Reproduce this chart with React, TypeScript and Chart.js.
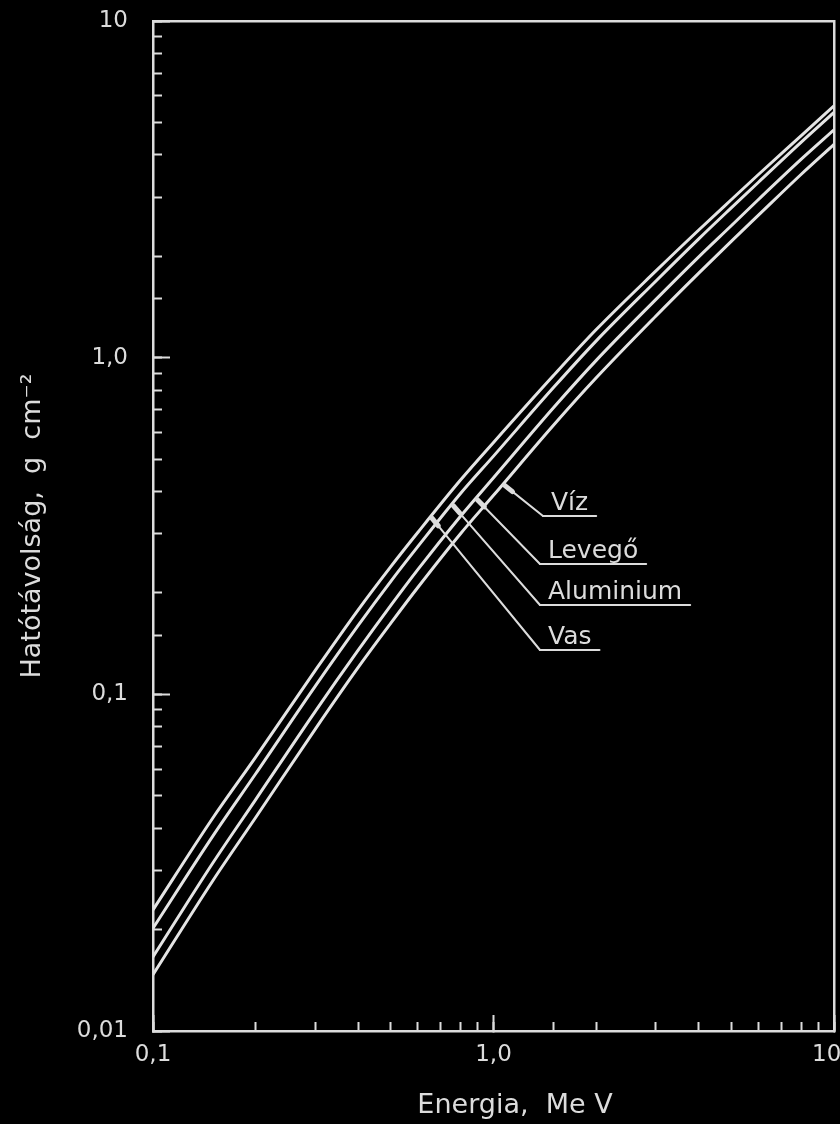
import { useEffect, useRef } from 'react';
import { Chart, registerables } from 'chart.js';

Chart.register(...registerables);

// Electron range (g/cm²) versus energy (MeV) for four absorbers
const energyMeV = [0.1, 0.15, 0.2, 0.3, 0.4, 0.5, 0.6, 0.8, 1, 1.5, 2, 3, 4, 5, 6, 8, 10];
const rangeVas = [0.0229, 0.043, 0.065, 0.118, 0.178, 0.24, 0.303, 0.433, 0.56, 0.885, 1.21, 1.81, 2.39, 2.95, 3.5, 4.56, 5.6];
const rangeAluminium = [0.0202, 0.038, 0.058, 0.106, 0.16, 0.217, 0.275, 0.395, 0.51, 0.815, 1.12, 1.69, 2.25, 2.79, 3.32, 4.36, 5.35];
const rangeLevego = [0.0166, 0.0316, 0.0486, 0.0892, 0.135, 0.184, 0.235, 0.338, 0.44, 0.71, 0.98, 1.49, 1.99, 2.47, 2.95, 3.88, 4.75];
const rangeViz = [0.0147, 0.028, 0.043, 0.079, 0.12, 0.163, 0.208, 0.3, 0.39, 0.63, 0.87, 1.33, 1.78, 2.22, 2.65, 3.5, 4.3];

const seriesNames = ['Vas', 'Aluminium', 'Levegő', 'Víz'];
const seriesValues = [rangeVas, rangeAluminium, rangeLevego, rangeViz];
// energy at which each callout touches its curve
const calloutEnergy = [0.654, 0.755, 0.888, 1.067];

const xTickValues = [0.1, 1, 10];
const xTickLabels = ['0,1', '1,0', '10'];
const yTickValues = [0.01, 0.1, 1, 10];
const yTickLabels = ['0,01', '0,1', '1,0', '10'];

const yTitle = 'Hatótávolság,  g  cm⁻²';
const xTitle = 'Energia,  Me V';

const INK = '#dcdcdc';
const LINE = '#e4e4e4';
const FONT = 'DejaVu Sans';

// callout end points (start of each underline), in canvas pixels
const calloutEnds = [
  { x: 540, y: 650 },
  { x: 540, y: 605 },
  { x: 540, y: 564 },
  { x: 543, y: 516 },
];

function isDecade(v: number) {
  const l = Math.log10(v);
  return Math.abs(l - Math.round(l)) < 1e-9;
}

function labelFor(values: number[], labels: string[], padLast = false) {
  return (value: number | string, index: number, ticks: any[]) => {
    const v = Number(value);
    const i = values.findIndex((t) => Math.abs(t - v) / t < 1e-6);
    if (i < 0) return '';
    // nudge the right-most label so it stays inside the canvas
    return padLast && index === ticks.length - 1 ? labels[i] + '\u00a0\u00a0' : labels[i];
  };
}

function logInterp(xs: number[], ys: number[], x: number) {
  for (let i = 0; i < xs.length - 1; i++) {
    if (x >= xs[i] && x <= xs[i + 1]) {
      const t = (Math.log(x) - Math.log(xs[i])) / (Math.log(xs[i + 1]) - Math.log(xs[i]));
      return Math.exp(Math.log(ys[i]) + t * (Math.log(ys[i + 1]) - Math.log(ys[i])));
    }
  }
  return ys[ys.length - 1];
}

const backgroundPlugin = {
  id: 'blackBackground',
  beforeDraw(chart: Chart) {
    const { ctx, width, height } = chart;
    ctx.save();
    ctx.fillStyle = '#000';
    ctx.fillRect(0, 0, width, height);
    ctx.restore();
  },
};

const calloutPlugin = {
  id: 'callouts',
  afterDatasetsDraw(chart: Chart) {
    const { ctx } = chart;
    const xs = chart.scales.x;
    const ys = chart.scales.y;
    ctx.save();
    ctx.strokeStyle = INK;
    ctx.fillStyle = INK;
    ctx.font = `25px "${FONT}"`;
    ctx.textBaseline = 'alphabetic';
    ctx.lineCap = 'round';
    seriesNames.forEach((name, i) => {
      const e = calloutEnergy[i];
      const ax = xs.getPixelForValue(e);
      const ay = ys.getPixelForValue(logInterp(energyMeV, seriesValues[i], e));
      const end = calloutEnds[i];
      const dx = end.x - ax;
      const dy = end.y - ay;
      const len = Math.hypot(dx, dy);
      // leader line
      ctx.lineWidth = 2;
      ctx.beginPath();
      ctx.moveTo(ax, ay);
      ctx.lineTo(end.x, end.y);
      ctx.stroke();
      // small arrow mark where the leader meets the curve
      ctx.lineWidth = 5;
      ctx.beginPath();
      ctx.moveTo(ax + (dx / len) * 2, ay + (dy / len) * 2);
      ctx.lineTo(ax + (dx / len) * 12, ay + (dy / len) * 12);
      ctx.stroke();
      // underline and text
      const tw = ctx.measureText(name).width;
      ctx.lineWidth = 2;
      ctx.beginPath();
      ctx.moveTo(end.x, end.y);
      ctx.lineTo(end.x + tw + 16, end.y);
      ctx.stroke();
      ctx.fillText(name, end.x + 8, end.y - 6);
    });
    // energy axis title
    ctx.font = `27px "${FONT}"`;
    ctx.textAlign = 'center';
    ctx.textBaseline = 'middle';
    ctx.fillText(xTitle, 515, 1106);
    ctx.restore();
  },
};

export default function App() {
  const ref = useRef<HTMLCanvasElement>(null);

  useEffect(() => {
    document.body.style.margin = '0';
    document.body.style.background = '#000';
    const canvas = ref.current!;

    const datasets = seriesNames.map((name, i) => ({
      label: name,
      data: energyMeV.map((e, j) => ({ x: e, y: seriesValues[i][j] })),
      borderColor: LINE,
      borderWidth: 3,
      pointRadius: 0,
      cubicInterpolationMode: 'monotone' as const,
      fill: false,
    }));

    const tickFont = { family: FONT, size: 23 };

    const chart = new Chart(canvas, {
      type: 'line',
      data: { datasets },
      plugins: [backgroundPlugin, calloutPlugin],
      options: {
        animation: false,
        responsive: false,
        layout: { padding: { top: 21, right: 6, left: 0, bottom: 0 } },
        plugins: { legend: { display: false }, tooltip: { enabled: false } },
        scales: {
          x: {
            type: 'logarithmic',
            position: 'bottom',
            min: 0.1,
            max: 10,
            weight: 1,
            border: { display: true, color: INK, width: 2.5 },
            grid: {
              display: true,
              drawOnChartArea: false,
              drawTicks: true,
              tickLength: -16,
              tickWidth: 2,
              tickColor: (c: any) => (c.tick && isDecade(c.tick.value) ? INK : 'rgba(0,0,0,0)'),
            },
            ticks: {
              autoSkip: false,
              maxRotation: 0,
              padding: 26,
              color: INK,
              font: tickFont,
              callback: labelFor(xTickValues, xTickLabels, true),
            },
            afterFit: (s: any) => {
              s.height = 93;
              s.paddingLeft = 0;
              s.paddingRight = 0;
            },
          },
          xMinor: {
            type: 'logarithmic',
            axis: 'x',
            position: 'bottom',
            min: 0.1,
            max: 10,
            weight: 0,
            border: { display: false },
            grid: {
              display: true,
              drawOnChartArea: false,
              drawTicks: true,
              tickLength: -9,
              tickWidth: 2,
              tickColor: INK,
            },
            ticks: { display: false, autoSkip: false },
            afterFit: (s: any) => {
              s.height = 0;
              s.paddingLeft = 0;
              s.paddingRight = 0;
            },
          },
          xTop: {
            type: 'logarithmic',
            axis: 'x',
            position: 'top',
            min: 0.1,
            max: 10,
            border: { display: true, color: INK, width: 2.5 },
            grid: { display: false },
            ticks: { display: false },
            afterFit: (s: any) => {
              s.height = 0;
              s.paddingLeft = 0;
              s.paddingRight = 0;
            },
          },
          y: {
            type: 'logarithmic',
            position: 'left',
            min: 0.01,
            max: 10,
            weight: 1,
            border: { display: true, color: INK, width: 2.5 },
            grid: {
              display: true,
              drawOnChartArea: false,
              drawTicks: true,
              tickLength: -17,
              tickWidth: 2,
              tickColor: (c: any) => (c.tick && isDecade(c.tick.value) ? INK : 'rgba(0,0,0,0)'),
            },
            ticks: {
              autoSkip: false,
              padding: 42,
              color: INK,
              font: tickFont,
              callback: labelFor(yTickValues, yTickLabels),
            },
            title: {
              display: true,
              text: yTitle,
              color: INK,
              font: { family: FONT, size: 27 },
              padding: { top: 17, bottom: 0 },
            },
            afterFit: (s: any) => {
              s.width = 153;
              s.paddingTop = 0;
              s.paddingBottom = 0;
            },
          },
          yMinor: {
            type: 'logarithmic',
            axis: 'y',
            position: 'left',
            min: 0.01,
            max: 10,
            weight: 0,
            border: { display: false },
            grid: {
              display: true,
              drawOnChartArea: false,
              drawTicks: true,
              tickLength: -9,
              tickWidth: 2,
              tickColor: INK,
            },
            ticks: { display: false, autoSkip: false },
            afterFit: (s: any) => {
              s.width = 0;
              s.paddingTop = 0;
              s.paddingBottom = 0;
            },
          },
          yRight: {
            type: 'logarithmic',
            axis: 'y',
            position: 'right',
            min: 0.01,
            max: 10,
            border: { display: true, color: INK, width: 2.5 },
            grid: { display: false },
            ticks: { display: false },
            afterFit: (s: any) => {
              s.width = 0;
              s.paddingTop = 0;
              s.paddingBottom = 0;
            },
          },
        },
      },
    } as any);

    return () => chart.destroy();
  }, []);

  return (
    <div style={{ width: 840, height: 1124, background: '#000' }}>
      <canvas ref={ref} width={840} height={1124} style={{ display: 'block' }} />
    </div>
  );
}
